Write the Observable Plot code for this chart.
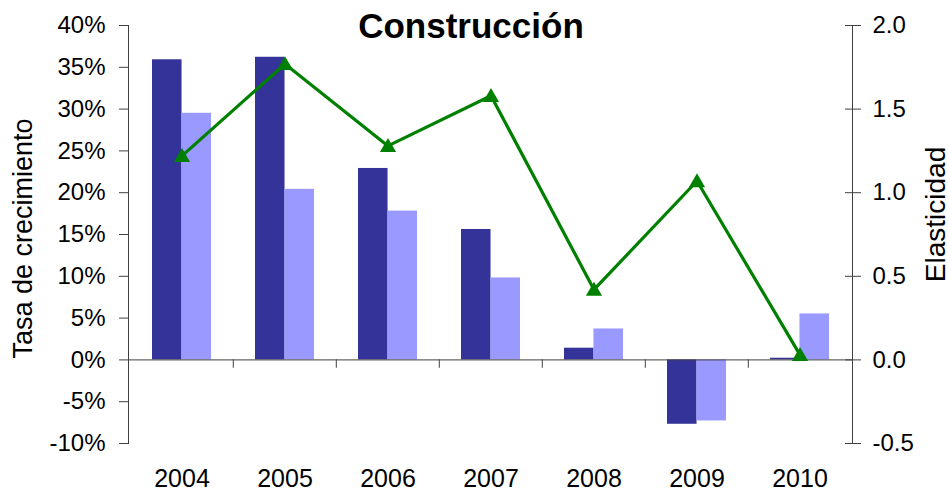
<!DOCTYPE html>
<html>
<head>
<meta charset="utf-8">
<script src="https://cdn.jsdelivr.net/npm/d3@7"></script>
<script src="https://cdn.jsdelivr.net/npm/@observablehq/plot@0.6"></script>
<style>
  html, body { margin: 0; padding: 0; background: #fff; }
  #chart svg { display: block; }
</style>
</head>
<body>
<div id="chart"></div>
<script>
// ---- data ----
const years = ["2004", "2005", "2006", "2007", "2008", "2009", "2010"];
const tasaOscura = [35.9, 36.2, 22.9, 15.6, 1.4, -7.7, 0.2];   // dark bars (%)
const tasaClara  = [29.5, 20.4, 17.8, 9.8, 3.7, -7.3, 5.5];    // light bars (%)
const elasticidad = [1.22, 1.77, 1.28, 1.58, 0.42, 1.07, 0.03]; // green line (right axis)
const leftTicks = [-10, -5, 0, 5, 10, 15, 20, 25, 30, 35, 40];
const rightTicks = [-0.5, 0.0, 0.5, 1.0, 1.5, 2.0];
const title = "Construcción";
const leftLabel = "Tasa de crecimiento";
const rightLabel = "Elasticidad";

// ---- layout ----
const W = 948, H = 489;
const mL = 128, mR = 96, mT = 25, mB = 46;
const frameW = W - mL - mR;
const step = frameW / years.length;
const padIn = 0.43;
const bw = step * (1 - padIn);
const ratio = 20; // right axis 2.0 ↔ left axis 40%

const darkData = years.map((year, i) => ({year, v: tasaOscura[i]}));
const lightData = years.map((year, i) => ({year, v: tasaClara[i]}));
const lineData = years.map((year, i) => ({year, e: elasticidad[i]}));

const axisColor = "#404040";

const chart = Plot.plot({
  width: W,
  height: H,
  marginLeft: mL,
  marginRight: mR,
  marginTop: mT,
  marginBottom: mB,
  style: {fontFamily: "'Liberation Sans', Arial, sans-serif", fontSize: "24px", color: "#000", background: "#fff"},
  x: {domain: years, paddingInner: padIn, paddingOuter: padIn / 2, axis: null},
  y: {domain: [-10, 40], axis: null},
  marks: [
    Plot.barY(darkData, {x: "year", y: "v", fill: "#333399", insetLeft: 0, insetRight: bw / 2}),
    Plot.barY(lightData, {x: "year", y: "v", fill: "#9999FF", insetLeft: bw / 2, insetRight: 0}),
    Plot.ruleY([0], {stroke: axisColor}),
    Plot.ruleX(years.slice(1), {x: d => d, dx: -step / 2, y1: 0, y2: -1, stroke: axisColor}),
    Plot.frame({anchor: "left", stroke: axisColor}),
    Plot.frame({anchor: "right", stroke: axisColor}),
    Plot.axisY(leftTicks, {anchor: "left", tickSize: 9, tickPadding: 14, tickFormat: d => d + "%", stroke: axisColor, label: null, fontSize: 24}),
    Plot.axisY(rightTicks.map(d => d * ratio), {anchor: "right", tickSize: 16, dx: -8, tickPadding: 12, tickFormat: d => (d / ratio).toFixed(1), stroke: axisColor, label: null, fontSize: 24}),
    Plot.axisX({anchor: "bottom", tickSize: 0, tickPadding: 25.5, label: null, fontSize: 25}),
    Plot.line(lineData, {x: "year", y: d => d.e * ratio, stroke: "#008000", strokeWidth: 3.2}),
    Plot.dot(lineData, {x: "year", y: d => d.e * ratio, symbol: "triangle", r: 6, fill: "#008000", dy: 1.5}),
    Plot.text([title], {frameAnchor: "top", dx: -19.5, dy: 1, lineAnchor: "middle", fontSize: 35, fontWeight: "bold", fill: "#000"}),
    Plot.text([leftLabel], {frameAnchor: "left", textAnchor: "middle", rotate: -90, dx: -105, dy: 4, lineAnchor: "middle", fontSize: 27, fill: "#000"}),
    Plot.text([rightLabel], {frameAnchor: "right", textAnchor: "middle", rotate: -90, dx: 84, dy: -20, lineAnchor: "middle", fontSize: 28, fill: "#000"})
  ]
});

document.getElementById("chart").appendChild(chart);
</script>
</body>
</html>
